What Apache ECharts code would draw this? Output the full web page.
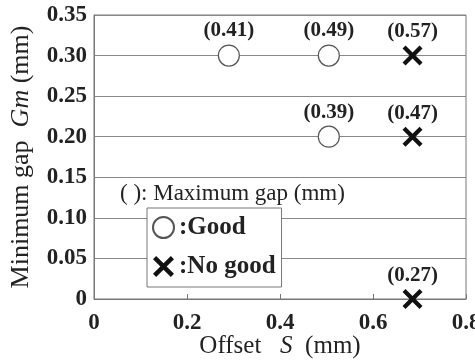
<!DOCTYPE html>
<html>
<head>
<meta charset="utf-8">
<script src="https://cdn.jsdelivr.net/npm/echarts@6/dist/echarts.min.js"></script>
<style>
  html, body { margin: 0; padding: 0; background: #fff; }
  #chart { width: 475px; height: 361px; }
</style>
</head>
<body>
<div id="chart"></div>
<script>
// Offset S (mm) vs minimum gap Gm (mm); bracketed values are maximum gap (mm)
const goodOffset = [0.29, 0.505, 0.505];
const goodMinGap = [0.30, 0.30, 0.20];
const goodMaxGap = [0.41, 0.49, 0.39];

const ngOffset = [0.685, 0.685, 0.685];
const ngMinGap = [0.30, 0.20, 0];
const ngMaxGap = [0.57, 0.47, 0.27];

const xTicks = [0, 0.2, 0.4, 0.6, 0.8];
const yTicks = [0, 0.05, 0.10, 0.15, 0.20, 0.25, 0.30, 0.35];

const SERIF = '"Liberation Serif", "Times New Roman", serif';
const CROSS = 'path://M0,3 L3,0 L10,7 L17,0 L20,3 L13,10 L20,17 L17,20 L10,13 L3,20 L0,17 L7,10 Z';

function points(xs, ys, maxes) {
  return xs.map((x, i) => ({ value: [x, ys[i]], maxGap: maxes[i] }));
}

const valueLabel = {
  show: true,
  position: 'top',
  distance: 3,
  formatter: p => '(' + p.data.maxGap.toFixed(2) + ')',
  fontFamily: SERIF,
  fontWeight: 'bold',
  fontSize: 21,
  color: '#222'
};

const chart = echarts.init(document.getElementById('chart'), null, { renderer: 'canvas' });

chart.setOption({
  animation: false,
  backgroundColor: '#fff',
  grid: {
    left: 94, right: 9, top: 15, bottom: 62,
    outerBoundsMode: 'none',
    containLabel: false,
    show: true, borderColor: '#777', borderWidth: 1
  },
  xAxis: {
    type: 'value',
    min: xTicks[0], max: xTicks[xTicks.length - 1], interval: 0.2,
    name: '{n|Offset   }{i|S}{n|  (mm)}',
    nameLocation: 'middle',
    nameMoveOverlap: false,
    nameGap: 35,
    nameTextStyle: {
      rich: {
        n: { fontFamily: SERIF, fontSize: 25, color: '#222' },
        i: { fontFamily: SERIF, fontSize: 25, fontStyle: 'italic', color: '#222' }
      }
    },
    axisLine: { show: true, lineStyle: { color: '#777' } },
    axisTick: { show: true, inside: true, length: 5, lineStyle: { color: '#777' } },
    splitLine: { show: false },
    axisLabel: {
      margin: 13,
      fontFamily: SERIF, fontWeight: 'bold', fontSize: 23, color: '#222',
      formatter: v => (v === 0 ? '0' : String(+v.toFixed(1)))
    }
  },
  yAxis: {
    type: 'value',
    min: yTicks[0], max: yTicks[yTicks.length - 1], interval: 0.05,
    name: '{n|Minimum gap  }{i|Gm}{n| (mm)}',
    nameLocation: 'middle',
    nameMoveOverlap: false,
    nameRotate: 90,
    nameGap: 60,
    nameTextStyle: {
      rich: {
        n: { fontFamily: SERIF, fontSize: 26, color: '#222' },
        i: { fontFamily: SERIF, fontSize: 26, fontStyle: 'italic', color: '#222' }
      }
    },
    axisLine: { show: true, lineStyle: { color: '#777' } },
    axisTick: { show: false },
    splitLine: { show: true, lineStyle: { color: '#888', width: 1 } },
    axisLabel: {
      margin: 7,
      fontFamily: SERIF, fontWeight: 'bold', fontSize: 23, color: '#222',
      formatter: v => (v === 0 ? '0' : v.toFixed(2))
    }
  },
  legend: {
    orient: 'vertical',
    left: 147, top: 208,
    backgroundColor: '#fff',
    borderColor: '#777', borderWidth: 1,
    padding: [7, 6, 8, 5],
    itemWidth: 21, itemHeight: 21,
    itemGap: 14,
    data: ['Good', 'No good'],
    formatter: name => ':' + name,
    textStyle: { fontFamily: SERIF, fontWeight: 'bold', fontSize: 25, color: '#222', lineHeight: 25 }
  },
  graphic: [{
    type: 'text',
    left: 120, top: 182,
    style: {
      text: '( ): Maximum gap (mm)',
      font: '23px ' + SERIF,
      fill: '#222'
    }
  }],
  series: [
    {
      name: 'Good',
      type: 'scatter',
      symbol: 'circle',
      symbolSize: 21,
      itemStyle: { color: '#fff', borderColor: '#555', borderWidth: 1.2, opacity: 1 },
      label: valueLabel,
      data: points(goodOffset, goodMinGap, goodMaxGap)
    },
    {
      name: 'No good',
      type: 'scatter',
      symbol: CROSS,
      symbolSize: 20,
      clip: false,
      itemStyle: { color: '#111', opacity: 1 },
      label: valueLabel,
      data: points(ngOffset, ngMinGap, ngMaxGap)
    }
  ]
});
</script>
</body>
</html>
